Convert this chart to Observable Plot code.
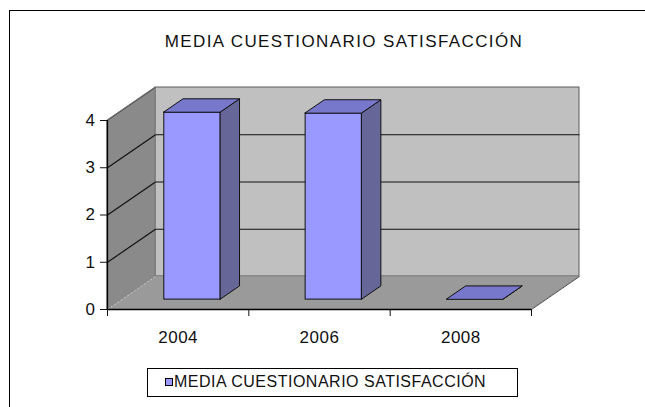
<!DOCTYPE html>
<html>
<head>
<meta charset="utf-8">
<script src="https://cdn.jsdelivr.net/npm/d3@7"></script>
<script src="https://cdn.jsdelivr.net/npm/@observablehq/plot@0.6"></script>
<style>
  html, body { margin: 0; padding: 0; background: #fff; }
  body { width: 645px; height: 407px; position: relative; overflow: hidden; font-family: "Liberation Sans", Arial, sans-serif; }
  #frame { position: absolute; left: 9px; top: 10px; width: 700px; height: 500px; border-top: 1px solid #000; border-left: 1px solid #000; pointer-events: none; }
  #title { position: absolute; left: 0; top: 32px; width: 688px; text-align: center; font-size: 17px; letter-spacing: 1.4px; color: #111; white-space: nowrap; }
  #chart { position: absolute; left: 0; top: 0; }
  #legend { position: absolute; left: 147px; top: 368px; width: 371px; height: 29px; border: 1px solid #000; box-sizing: border-box; }
  #legend .sw { position: absolute; left: 17px; top: 9px; width: 8px; height: 8px; background: #9999ff; border: 1px solid #000; box-sizing: border-box; }
  #legend .lb { position: absolute; left: 26px; top: 4px; font-size: 16px; letter-spacing: 0.5px; color: #111; white-space: nowrap; }
</style>
</head>
<body>
<div id="chart"></div>
<div id="title"></div>
<div id="legend"><div class="sw"></div><div class="lb"></div></div>
<div id="frame"></div>
<script>
// ---- data ----
const categories = ["2004", "2006", "2008"];
const values = [3.96, 3.94, 0];
const yTicks = [0, 1, 2, 3, 4];
const titleText = "MEDIA CUESTIONARIO SATISFACCIÓN";
const seriesName = "MEDIA CUESTIONARIO SATISFACCIÓN";

document.getElementById("title").textContent = titleText;
document.querySelector("#legend .lb").textContent = seriesName;

// ---- oblique 3D projection in data units ----
const n = categories.length;
const yMax = yTicks[yTicks.length - 1];
const DX = 0.3396;   // depth offset along x (category units)
const DY = 0.698;    // depth offset along y (value units)
const d0 = 0.3, d1 = 0.7;   // bar depth span
const b0 = 0.3, b1 = 0.7;   // bar width span within a category

const backWall = [{x1: DX, x2: n + DX, y1: DY, y2: yMax + DY}];
const leftWall = [{x: 0, y1: 0, y2: yMax}, {x: DX, y1: DY, y2: yMax + DY}];
const floor = [{y: 0, x1: 0, x2: n}, {y: DY, x1: DX, x2: n + DX}];
const grid = yTicks.filter(v => v > 0 && v < yMax);
const backGrid = grid.map(v => ({x1: DX, x2: n + DX, y1: v + DY, y2: v + DY}));
const sideGrid = grid.map(v => ({x1: 0, x2: DX, y1: v, y2: v + DY}));
const edges = [
  {x1: 0, y1: yMax, x2: DX, y2: yMax + DY},
  {x1: n, y1: 0, x2: n + DX, y2: DY}
];

const bars = categories.map((c, i) => ({c, i, v: values[i]}));
const fronts = bars.map(b => ({
  x1: b.i + b0 + d0 * DX, x2: b.i + b1 + d0 * DX,
  y1: d0 * DY, y2: b.v + d0 * DY
}));
const sides = bars.flatMap(b => [d0, d1].map(d => ({
  k: b.c, x: b.i + b1 + d * DX, y1: d * DY, y2: b.v + d * DY
})));
const tops = bars.flatMap(b => [d0, d1].map(d => ({
  k: b.c, y: b.v + d * DY, x1: b.i + b0 + d * DX, x2: b.i + b1 + d * DX
})));

const chart = Plot.plot({
  width: 645,
  height: 407,
  marginLeft: 107,
  marginRight: 114,
  marginTop: 120,
  marginBottom: 98,
  style: {fontFamily: "'Liberation Sans', Arial, sans-serif", fontSize: "17px", color: "#111", background: "transparent", letterSpacing: "0.5px"},
  x: {type: "linear", domain: [0, n], axis: null},
  y: {domain: [0, yMax], axis: null},
  marks: [
    Plot.rect(backWall, {x1: "x1", x2: "x2", y1: "y1", y2: "y2", fill: "#c0c0c0", stroke: "#5a5a5a", strokeWidth: 1}),
    Plot.areaY(leftWall, {x: "x", y1: "y1", y2: "y2", fill: "#8a8a8a", stroke: "#777", strokeWidth: 1}),
    Plot.areaX(floor, {y: "y", x1: "x1", x2: "x2", fill: "#9a9a9a", stroke: "#888", strokeWidth: 1}),
    Plot.link(backGrid, {x1: "x1", x2: "x2", y1: "y1", y2: "y2", stroke: "#111", strokeWidth: 1.2}),
    Plot.link(sideGrid, {x1: "x1", x2: "x2", y1: "y1", y2: "y2", stroke: "#111", strokeWidth: 1.2}),
    Plot.link([{x1: 0, y1: 0, x2: DX, y2: DY}], {x1: "x1", x2: "x2", y1: "y1", y2: "y2", stroke: "#ccc", strokeDasharray: "2,2"}),
    Plot.link(edges, {x1: "x1", x2: "x2", y1: "y1", y2: "y2", stroke: "#555", strokeWidth: 1}),
    Plot.rect(fronts, {x1: "x1", x2: "x2", y1: "y1", y2: "y2", fill: "#9999ff", stroke: "#111", strokeWidth: 1}),
    Plot.areaY(sides, {x: "x", y1: "y1", y2: "y2", z: "k", fill: "#666699", stroke: "#111", strokeWidth: 1}),
    Plot.areaX(tops, {y: "y", x1: "x1", x2: "x2", z: "k", fill: "#7777cc", stroke: "#111", strokeWidth: 1}),
    Plot.ruleX([0], {y1: 0, y2: yMax, stroke: "#000", strokeWidth: 1.3}),
    Plot.ruleY([0], {x1: 0, x2: n, stroke: "#000", strokeWidth: 1.3}),
    Plot.axisY({ticks: yTicks, tickSize: 7, tickPadding: 5, tickFormat: d => String(d), fontSize: 17}),
    Plot.axisX({ticks: d3.range(n + 1), tickSize: 7, tickFormat: () => ""}),
    Plot.axisX({ticks: d3.range(n).map(i => i + 0.5), tickSize: 0, tickPadding: 21, tickFormat: t => categories[Math.floor(t)], fontSize: 17})
  ]
});
document.getElementById("chart").appendChild(chart);
</script>
</body>
</html>
